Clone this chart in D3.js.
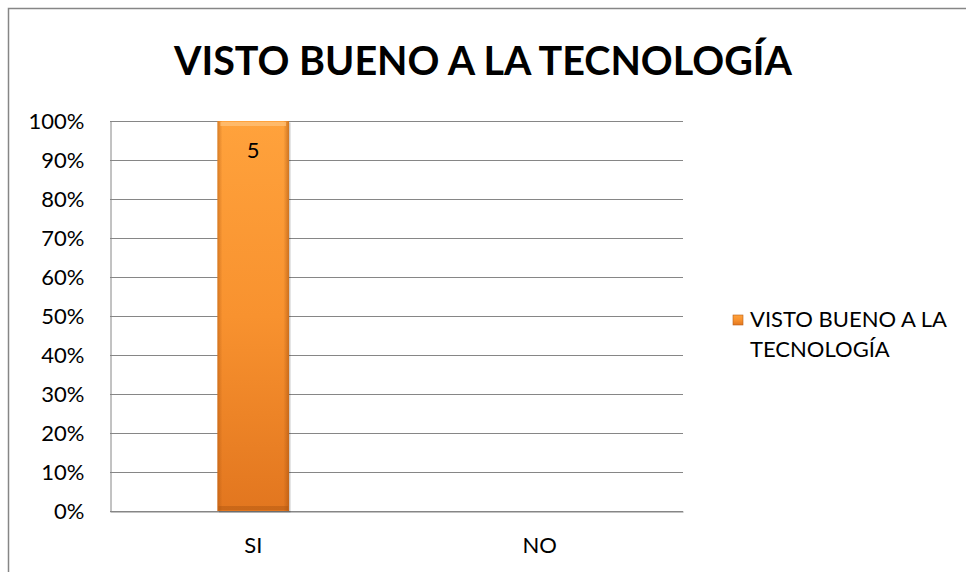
<!DOCTYPE html>
<html>
<head>
<meta charset="utf-8">
<script src="https://cdn.jsdelivr.net/npm/d3@7"></script>
<style>
body { margin: 0; background: #fff; }
text { font-family: Lato, "Open Sans", sans-serif; fill: #000; }
</style>
</head>
<body>
<script>
// chart data
var categories = ["SI", "NO"];
var percents = [1.0, 0.0];
var counts = [5, 0];
var yTicks = [0, 0.1, 0.2, 0.3, 0.4, 0.5, 0.6, 0.7, 0.8, 0.9, 1.0];
var chartTitle = "VISTO BUENO A LA TECNOLOGÍA";
var legendLines = ["VISTO BUENO A LA", "TECNOLOGÍA"];

var width = 966, height = 572;
var plot = {left: 110, right: 683, top: 121, bottom: 511};

var svg = d3.select("body").append("svg")
  .attr("width", width)
  .attr("height", height);

// gradients for the bar
var defs = svg.append("defs");
var grad = defs.append("linearGradient").attr("id", "barGrad")
  .attr("x1", 0).attr("y1", 0).attr("x2", 0).attr("y2", 1);
grad.append("stop").attr("offset", "0%").attr("stop-color", "#FFA23C");
grad.append("stop").attr("offset", "50%").attr("stop-color", "#F8922F");
grad.append("stop").attr("offset", "100%").attr("stop-color", "#E2761F");
var side = defs.append("linearGradient").attr("id", "sideGrad")
  .attr("x1", 0).attr("y1", 0).attr("x2", 1).attr("y2", 0);
side.append("stop").attr("offset", "0%").attr("stop-color", "#A8520E").attr("stop-opacity", 0.45);
side.append("stop").attr("offset", "7%").attr("stop-color", "#A8520E").attr("stop-opacity", 0);
side.append("stop").attr("offset", "92%").attr("stop-color", "#A8520E").attr("stop-opacity", 0);
side.append("stop").attr("offset", "100%").attr("stop-color", "#A8520E").attr("stop-opacity", 0.55);

// outer border
svg.append("rect")
  .attr("x", 8.5).attr("y", 8.5)
  .attr("width", 1000).attr("height", 1000)
  .attr("fill", "none").attr("stroke", "#868686").attr("stroke-width", 1.5);

// title
svg.append("text")
  .attr("x", 483).attr("y", 75)
  .attr("text-anchor", "middle")
  .style("font-size", "39.5px").style("font-weight", "bold")
  .text(chartTitle);

var y = d3.scaleLinear().domain([0, 1]).range([plot.bottom, plot.top]);
var x = d3.scaleBand().domain(categories).range([plot.left, plot.right]);

// gridlines
svg.append("g")
  .selectAll("line").data(yTicks).enter().append("line")
  .attr("x1", plot.left).attr("x2", plot.right)
  .attr("y1", function(d){ return Math.round(y(d)) + 0.5; })
  .attr("y2", function(d){ return Math.round(y(d)) + 0.5; })
  .attr("stroke", "#868686").attr("stroke-width", 1);

// y axis
var yAxis = svg.append("g")
  .attr("transform", "translate(" + (plot.left + 0.5) + ",0)")
  .call(d3.axisLeft(y).tickValues(yTicks).tickFormat(d3.format(".0%")).tickSize(0).tickPadding(26));
yAxis.select(".domain").attr("stroke", "#868686");
yAxis.selectAll("text").style("font-size", "22px").attr("dy", "0.36em").attr("fill", "#000");

// x axis
var xAxis = svg.append("g")
  .attr("transform", "translate(0," + (plot.bottom + 0.5) + ")")
  .call(d3.axisBottom(x).tickSize(0).tickPadding(26));
xAxis.select(".domain").attr("stroke", "#868686");
xAxis.selectAll("text").style("font-size", "22px").attr("fill", "#000");

// bars
var barW = x.bandwidth() * 0.25;
var bars = svg.append("g").selectAll("g").data(categories).enter().append("g");
bars.filter(function(d, i){ return percents[i] > 0; }).each(function(d){
  var idx = categories.indexOf(d);
  var g = d3.select(this);
  var bx = x(d) + (x.bandwidth() - barW) / 2;
  var by = y(percents[idx]);
  var bh = y(0) - by;
  // shadow
  g.append("rect").attr("x", bx + 1.5).attr("y", by + 1.5).attr("width", barW).attr("height", bh)
    .attr("fill", "#000").attr("opacity", 0.18);
  g.append("rect").attr("x", bx).attr("y", by).attr("width", barW).attr("height", bh)
    .attr("fill", "url(#barGrad)");
  g.append("rect").attr("x", bx).attr("y", by).attr("width", barW).attr("height", bh)
    .attr("fill", "url(#sideGrad)");
  // bevel top highlight
  g.append("rect").attr("x", bx + 3).attr("y", by + 1).attr("width", barW - 6).attr("height", 4)
    .attr("fill", "#FFC27A").attr("opacity", 0.75);
  g.append("rect").attr("x", bx + 1).attr("y", by + bh - 5).attr("width", barW - 2).attr("height", 4)
    .attr("fill", "#A8520E").attr("opacity", 0.4);
  g.append("text")
    .attr("x", bx + barW / 2).attr("y", by + 37)
    .attr("text-anchor", "middle")
    .style("font-size", "22px")
    .text(counts[idx]);
});

// legend
var lg = svg.append("g").attr("transform", "translate(733,315)");
lg.append("rect").attr("width", 10).attr("height", 10).attr("fill", "url(#barGrad)")
  .attr("stroke", "#B8601A").attr("stroke-width", 0.6);
lg.selectAll("text").data(legendLines).enter().append("text")
  .attr("x", 17)
  .attr("y", function(d, i){ return 12 + i * 30; })
  .style("font-size", "22px")
  .text(function(d){ return d; });
</script>
</body>
</html>
